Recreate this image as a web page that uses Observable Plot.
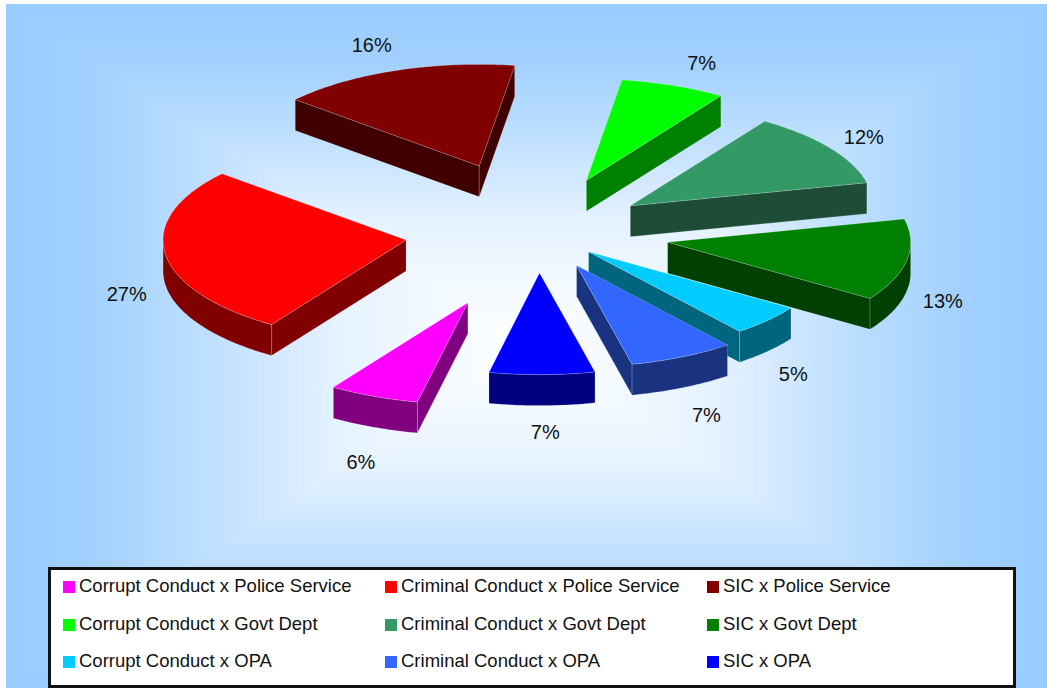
<!DOCTYPE html>
<html>
<head>
<meta charset="utf-8">
<style>
  html, body { margin: 0; padding: 0; background: #fff; overflow: hidden; }
  #page { position: relative; width: 1047px; height: 688px; font-family: "Liberation Sans", Arial, sans-serif; }
  #page svg { display: block; }
  #legend { position: absolute; left: 48px; top: 567px; width: 962px; height: 115px; background: #fff;
            border: 3px solid #111; color: #111; font-size: 18.5px; }
  #legend .item { position: absolute; white-space: nowrap; line-height: 20px; }
  #legend .key { position: absolute; left: 0; top: 4px; width: 12px; height: 12px; }
  #legend .name { position: absolute; left: 16px; top: -1px; }
</style>
</head>
<body>
<div id="page"></div>
<script src="https://cdn.jsdelivr.net/npm/d3@7"></script>
<script src="https://cdn.jsdelivr.net/npm/@observablehq/plot@0.6"></script>
<script>
// Slices, clockwise from the one at the bottom of the pie
const names = [
  "Corrupt Conduct x Police Service", "Criminal Conduct x Police Service", "SIC x Police Service",
  "Corrupt Conduct x Govt Dept", "Criminal Conduct x Govt Dept", "SIC x Govt Dept",
  "Corrupt Conduct x OPA", "Criminal Conduct x OPA", "SIC x OPA"
];
const shares = [6, 27, 16, 7, 12, 13, 5, 7, 7];
const topColors = ["#FF00FF", "#FF0000", "#800000", "#00FF00", "#339966", "#008000", "#00CCFF", "#3366FF", "#0000FF"];
const wallColors = ["#800080", "#800000", "#400000", "#008000", "#1D4D37", "#004000", "#006680", "#1A3380", "#000080"];
// How far each slice is pulled out of the pie, in percent of the radius
const explosion = [75, 55, 70, 55, 46, 54, 28, 36, 40];
// Offset of each percentage label from its slice's rim, in radii
const labelShiftX = [-0.053, -0.159, -0.094, 0.116, 0.14, 0.148, 0.106, 0.099, 0.013];
const labelShiftY = [0.651, 0.404, -0.247, -0.217, -0.098, 0.404, 0.536, 0.578, 0.571];
const legendRows = [[0, 1, 2], [3, 4, 5], [6, 7, 8]];

const firstAngle = 192;      // degrees clockwise from the back of the pie
const thickness = 0.305;     // slab height, in vertical radii
const rad = Math.PI / 180;
const onRim = (a) => [Math.sin(a * rad), -Math.cos(a * rad)];

// Work out each slice's angular span and its pulled-out apex
let running = firstAngle;
const slices = shares.map((share, i) => {
  const start = running;
  const end = start + share * 3.6;
  running = end;
  const mid = (start + end) / 2;
  const [mx, my] = onRim(mid);
  const pull = explosion[i] / 100;
  return {i, start, end, mid, ax: mx * pull, ay: my * pull, share};
});

const arcAngles = (from, to) => {
  const n = Math.max(1, Math.ceil(to - from));
  return d3.range(n + 1).map((k) => from + (to - from) * k / n);
};

// Faces are painted back to front, ordered by the apex's place on the page
const faces = [];
let faceId = 0;
const addFace = (points, color, kind) => {
  const id = faceId++;
  points.concat([points[0]]).forEach(([x, y]) => faces.push({id, x, y, color, kind}));
};
for (const s of d3.sort(slices, (d) => d.ay)) {
  const wall = wallColors[s.i];
  const apex = [s.ax, s.ay];
  const rimPoint = (a) => {
    const [x, y] = onRim(a);
    return [s.ax + x, s.ay + y];
  };
  const drop = ([x, y]) => [x, y + thickness];
  const radialWall = (a) => {
    const p = rimPoint(a);
    addFace([apex, p, drop(p), drop(apex)], wall, "wall");
  };
  if (Math.sin(s.start * rad) < 0) radialWall(s.start);
  if (Math.sin(s.end * rad) > 0) radialWall(s.end);
  // The outer wall shows only along the front half of the rim
  for (const [lo, hi] of [[90, 270], [450, 630]]) {
    const from = Math.max(s.start, lo);
    const to = Math.min(s.end, hi);
    if (to > from) {
      const rim = arcAngles(from, to).map(rimPoint);
      addFace(rim.concat(rim.map(drop).reverse()), wall, "wall");
    }
  }
  addFace([apex].concat(arcAngles(s.start, s.end).map(rimPoint)), topColors[s.i], "top");
}

const labels = slices.map((s) => {
  const [x, y] = onRim(s.mid);
  return {
    x: s.ax + x + labelShiftX[s.i],
    y: s.ay + y + labelShiftY[s.i],
    text: `${s.share}%`
  };
});

// One horizontal radius is 243px wide, one vertical radius 101.5px tall
const xDomain = [-538 / 243, 509 / 243];
const yDomain = [-232 / 101.5, 456 / 101.5];

// Rectangular backdrop fading from pale blue at the rim to white in the middle
const backdropLeft = xDomain[0] + 6 / 243;
const backdropTop = yDomain[0] + 4 / 101.5;
const steps = d3.range(0, 64);
const fade = d3.scaleLinear([0, 0.37, 0.62, 0.85, 1], [0, 0.25, 0.63, 0.92, 1]);
const backdropColor = d3.interpolateRgb("#FFFFFF", "#99CCFF");
const cx = (backdropLeft + xDomain[1]) / 2;
const cy = (backdropTop + yDomain[1]) / 2;
const backdrop = steps.map((k) => {
  const t = k / steps.length;
  return {
    x1: backdropLeft + (cx - backdropLeft) * t,
    x2: xDomain[1] - (xDomain[1] - cx) * t,
    y1: backdropTop + (cy - backdropTop) * t,
    y2: yDomain[1] - (yDomain[1] - cy) * t,
    fill: backdropColor(fade(1 - t))
  };
});

const chart = Plot.plot({
  width: 1047,
  height: 688,
  margin: 0,
  x: {domain: xDomain, axis: null},
  y: {domain: yDomain, range: [0, 688], axis: null},
  style: {fontFamily: "'Liberation Sans', Arial, sans-serif", background: "#fff"},
  marks: [
    Plot.rect(backdrop, {x1: "x1", x2: "x2", y1: "y1", y2: "y2", fill: "fill"}),
    Plot.line(faces, {
      x: "x", y: "y", z: "id", fill: "color",
      stroke: "#fff", strokeOpacity: 0.3, strokeWidth: 0.6, curve: "linear"
    }),
    Plot.text(labels, {
      x: "x", y: "y", text: "text",
      fontSize: 20, fill: "#111", textAnchor: "middle", lineAnchor: "middle"
    })
  ]
});

const page = document.getElementById("page");
page.appendChild(chart);

// Legend box laid over the bottom of the backdrop
const legend = document.createElement("div");
legend.id = "legend";
const columnLefts = [12, 334, 656];
const rowTops = [7, 45, 82];
legendRows.forEach((row, r) => row.forEach((i, c) => {
  const item = document.createElement("div");
  item.className = "item";
  item.style.left = columnLefts[c] + "px";
  item.style.top = rowTops[r] + "px";
  const key = document.createElement("span");
  key.className = "key";
  key.style.background = topColors[i];
  const name = document.createElement("span");
  name.className = "name";
  name.textContent = names[i];
  item.append(key, name);
  legend.appendChild(item);
}));
page.appendChild(legend);
</script>
</body>
</html>
